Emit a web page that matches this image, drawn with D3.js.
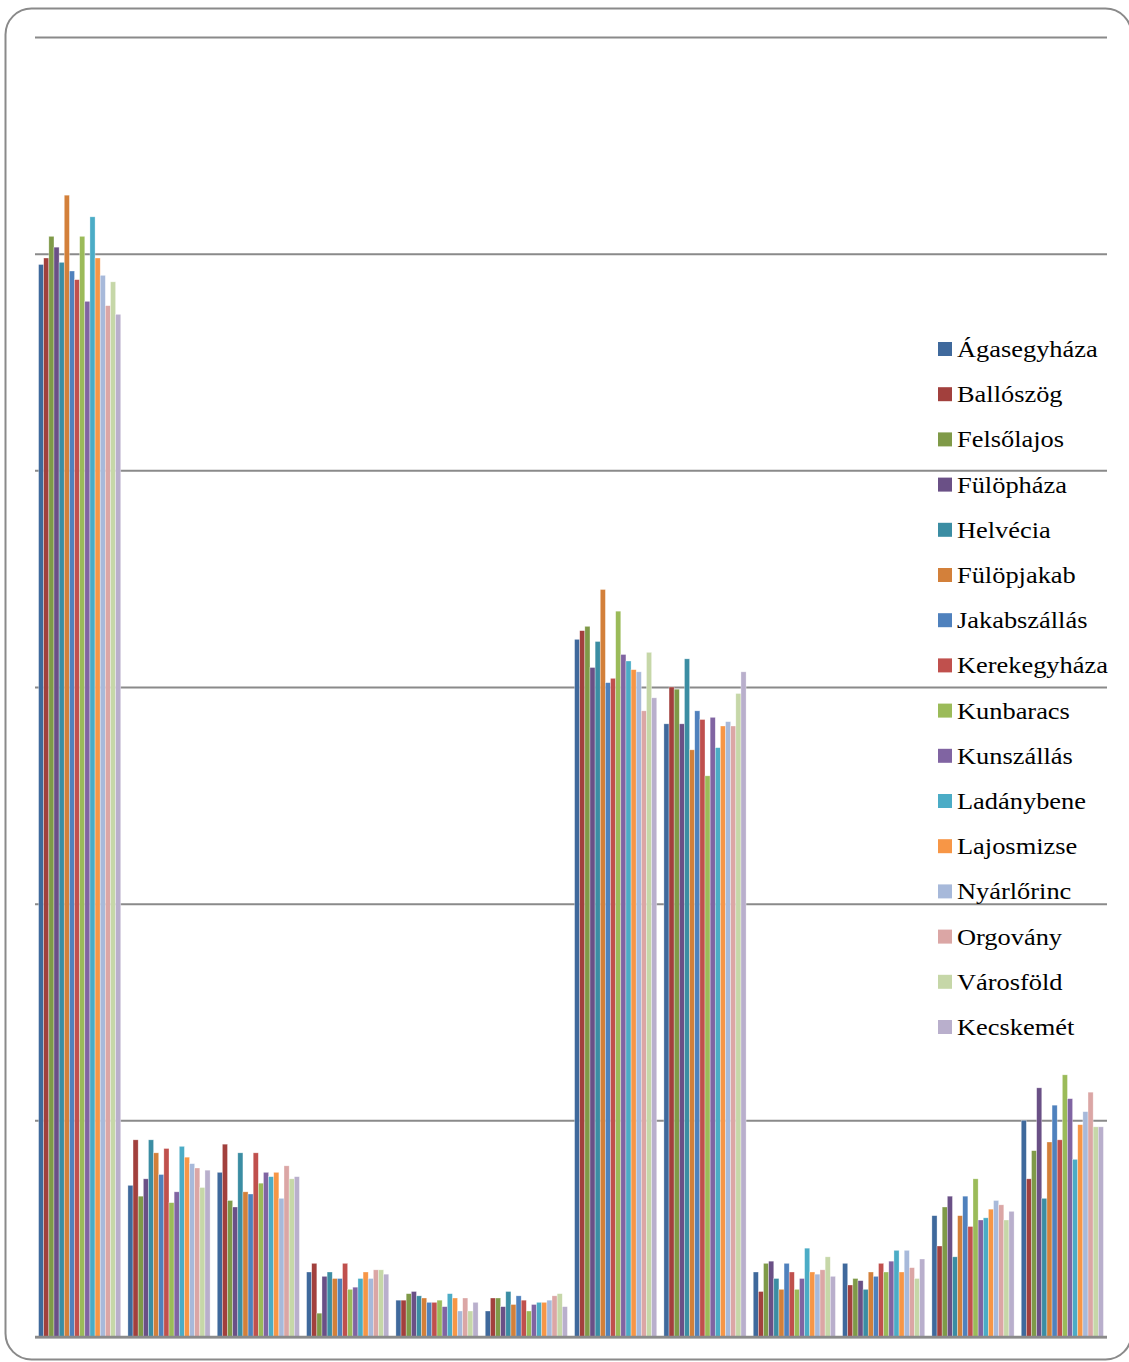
<!DOCTYPE html>
<html>
<head>
<meta charset="utf-8">
<script src="https://cdnjs.cloudflare.com/ajax/libs/d3/7.8.5/d3.min.js"></script>
<style>
  html, body { margin: 0; padding: 0; background: #fff; }
  svg { display: block; }
</style>
</head>
<body>
<svg id="chart" width="1129" height="1362"></svg>
<script>
// Categories (no labels are printed in the reference)
const categories = ["1","2","3","4","5","6","7","8","9","10","11","12"];

const seriesNames = ["Ágasegyháza","Ballószög","Felsőlajos","Fülöpháza","Helvécia","Fülöpjakab",
  "Jakabszállás","Kerekegyháza","Kunbaracs","Kunszállás","Ladánybene","Lajosmizse",
  "Nyárlőrinc","Orgovány","Városföld","Kecskemét"];

const agasegyhaza  = [49.5, 7.0, 7.6, 3.0, 1.7, 1.2, 32.2, 28.3, 3.0, 3.4, 5.6, 10.0];
const ballioszog   = [49.8, 9.1, 8.9, 3.4, 1.7, 1.8, 32.6, 30.0, 2.1, 2.4, 4.2, 7.3];
const felsolajos   = [50.8, 6.5, 6.3, 1.1, 2.0, 1.8, 32.8, 29.9, 3.4, 2.7, 6.0, 8.6];
const fulophaza    = [50.3, 7.3, 6.0, 2.8, 2.1, 1.4, 30.9, 28.3, 3.5, 2.6, 6.5, 11.5];
const helvecia     = [49.6, 9.1, 8.5, 3.0, 1.9, 2.1, 32.1, 31.3, 2.7, 2.2, 3.7, 6.4];
const fulopjakab   = [52.7, 8.5, 6.7, 2.7, 1.8, 1.5, 34.5, 27.1, 2.2, 3.0, 5.6, 9.0];
const jakabszallas = [49.2, 7.5, 6.6, 2.7, 1.6, 1.9, 30.2, 28.9, 3.4, 2.8, 6.5, 10.7];
const kerekegyhaza = [48.8, 8.7, 8.5, 3.4, 1.6, 1.7, 30.4, 28.5, 3.0, 3.4, 5.1, 9.1];
const kunbaracs    = [50.8, 6.2, 7.1, 2.2, 1.7, 1.2, 33.5, 25.9, 2.2, 3.0, 7.3, 12.1];
const kunszallas   = [47.8, 6.7, 7.6, 2.3, 1.4, 1.5, 31.5, 28.6, 2.7, 3.5, 5.4, 11.0];
const ladanybene   = [51.7, 8.8, 7.4, 2.7, 2.0, 1.6, 31.2, 27.2, 4.1, 4.0, 5.5, 8.2];
const lajosmizse   = [49.8, 8.3, 7.6, 3.0, 1.8, 1.6, 30.8, 28.2, 3.0, 3.0, 5.9, 9.8];
const nyarlorinc   = [49.0, 8.0, 6.4, 2.7, 1.2, 1.7, 30.7, 28.4, 2.9, 4.0, 6.3, 10.4];
const orgovany     = [47.6, 7.8, 7.9, 3.1, 1.8, 1.9, 28.9, 28.2, 3.1, 3.2, 6.1, 11.3];
const varosfold    = [48.7, 6.9, 7.3, 3.1, 1.2, 2.0, 31.6, 29.7, 3.7, 2.7, 5.4, 9.7];
const kecskemet    = [47.2, 7.7, 7.4, 2.9, 1.6, 1.4, 29.5, 30.7, 2.8, 3.6, 5.8, 9.7];

const seriesValues = [agasegyhaza, ballioszog, felsolajos, fulophaza, helvecia, fulopjakab,
  jakabszallas, kerekegyhaza, kunbaracs, kunszallas, ladanybene, lajosmizse,
  nyarlorinc, orgovany, varosfold, kecskemet];

const tickValues = [0, 10, 20, 30, 40, 50, 60];

const colors = ["#3F699C","#A2403D","#7F9A48","#6A5086","#3B8DA3","#D3803A",
  "#4F81BD","#C0504D","#9BBB59","#8064A2","#4BACC6","#F79646",
  "#A7B9DA","#DBA6A5","#C6D7A8","#B9AFCC"];

const svg = d3.select("#chart");

// frame
svg.append("rect")
  .attr("x", 5.5).attr("y", 8.5)
  .attr("width", 1126).attr("height", 1351)
  .attr("rx", 26).attr("ry", 26)
  .attr("fill", "#fff").attr("stroke", "#8a8a8a").attr("stroke-width", 2);

const plot = { left: 35, right: 1107, top: 37, bottom: 1337 };

const y = d3.scaleLinear().domain([0, 60]).range([plot.bottom, plot.top]);
const x0 = d3.scaleBand().domain(categories).range([plot.left, plot.right])
  .paddingInner(0.08).paddingOuter(0.04);
const x1 = d3.scaleBand().domain(d3.range(seriesNames.length)).range([0, x0.bandwidth()]);

// gridlines via axis
const grid = svg.append("g")
  .attr("transform", `translate(${plot.left},0)`)
  .call(d3.axisLeft(y).tickValues(tickValues).tickSize(-(plot.right - plot.left)).tickFormat(""));
grid.select(".domain").remove();
grid.selectAll(".tick line").attr("stroke", "#8a8a8a").attr("stroke-width", 2);

// bars
const rows = [];
categories.forEach((c, ci) => {
  seriesValues.forEach((vals, si) => rows.push({ c, si, v: vals[ci] }));
});

svg.append("g").selectAll("rect")
  .data(rows).join("rect")
  .attr("x", d => x0(d.c) + x1(d.si))
  .attr("y", d => y(d.v))
  .attr("width", x1.bandwidth())
  .attr("height", d => y(0) - y(d.v))
  .attr("fill", d => colors[d.si])
  .attr("stroke", "rgba(255,255,255,0.55)")
  .attr("stroke-width", 0.6);

// baseline
svg.append("line")
  .attr("x1", plot.left).attr("x2", plot.right)
  .attr("y1", y(0)).attr("y2", y(0))
  .attr("stroke", "#8a8a8a").attr("stroke-width", 2.5);

// legend
const legend = svg.append("g");
const ly0 = 349, lstep = 45.2;
seriesNames.forEach((name, i) => {
  const cy = ly0 + i * lstep;
  legend.append("rect")
    .attr("x", 938).attr("y", cy - 7)
    .attr("width", 14).attr("height", 14)
    .attr("fill", colors[i]);
  legend.append("text")
    .attr("transform", `translate(957,${cy + 8}) scale(1.1,1)`)
    .attr("font-family", "'Liberation Serif', 'Times New Roman', serif")
    .attr("font-size", 24)
    .attr("fill", "#000")
    .text(name);
});
</script>
</body>
</html>
